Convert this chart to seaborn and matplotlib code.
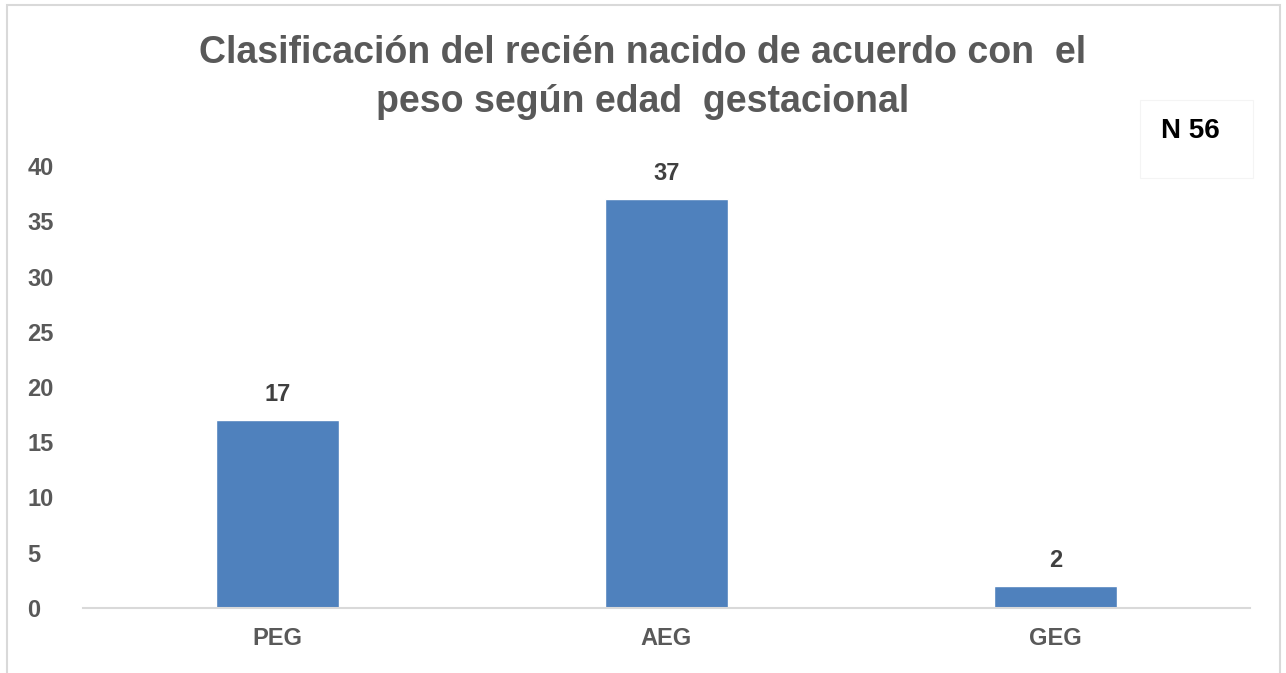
import matplotlib
matplotlib.use("Agg")
import matplotlib.pyplot as plt
from matplotlib.patches import Rectangle
import seaborn as sns
import pandas as pd

# data
categorias = ["PEG", "AEG", "GEG"]
valores = [17, 37, 2]
titulo = "Clasificación del recién nacido de acuerdo con  el\npeso según edad  gestacional"
n_texto = "N 56"

df = pd.DataFrame({"cat": categorias, "n": valores})

sns.set_theme(style="white")
plt.rcParams['font.family'] = ['Liberation Sans', 'DejaVu Sans']
plt.rcParams['font.weight'] = 'bold'

fig = plt.figure(figsize=(12.86, 6.73), dpi=100)
ax = fig.add_axes([0.0645, 0.0966, 0.9075, 0.6567])

sns.barplot(data=df, x="cat", y="n", color="#4f81bd", saturation=1,
            width=0.314, ax=ax)

ax.set_ylim(0, 40)
ax.set_xlim(-0.5, 2.5)
ax.set_yticks(range(0, 41, 5))
ax.set_xlabel("")
ax.set_ylabel("")
for s in ["top", "right", "left"]:
    ax.spines[s].set_visible(False)
ax.spines["bottom"].set_color("#d9d9d9")
ax.spines["bottom"].set_linewidth(1.5)
ax.tick_params(axis="y", length=0, pad=40, labelsize=17, labelcolor="#595959")
ax.tick_params(axis="x", length=0, pad=14, labelsize=17, labelcolor="#595959")
for lab in ax.get_yticklabels():
    lab.set_horizontalalignment("left")

for c in ax.containers:
    ax.bar_label(c, padding=10, fontsize=17, fontweight="bold", color="#404040")

fig.text(0.5, 0.885, titulo, ha="center", va="center", fontsize=27,
         fontweight="bold", color="#595959", linespacing=1.45)

fig.patches.append(Rectangle((1140 / 1286, 1 - 178 / 673), 113 / 1286, 78 / 673,
                             transform=fig.transFigure, facecolor="white",
                             edgecolor="#f4f4f4", lw=0.8))
fig.text(1190 / 1286, 1 - 131 / 673, n_texto, ha="center", va="center",
         fontsize=20, fontweight="bold", color="black")

# chart border
fig.patches.append(Rectangle((7 / 1286, -0.05), 1273 / 1286, 1 - 5 / 673 + 0.05,
                             transform=fig.transFigure, facecolor="none",
                             edgecolor="#d9d9d9", lw=1.5))

fig.savefig("out.png", dpi=100)
